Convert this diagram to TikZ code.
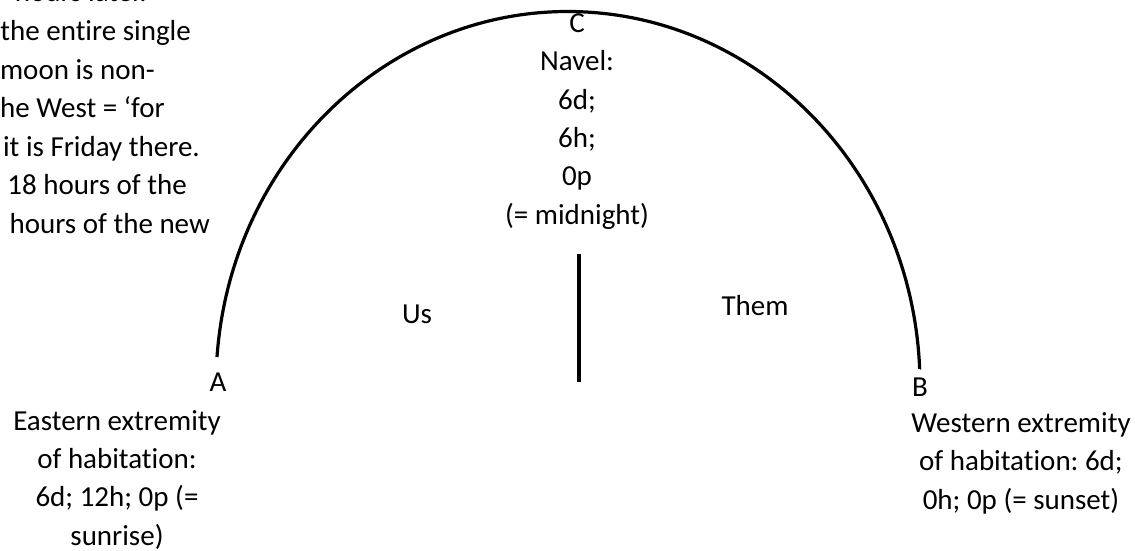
\documentclass[tikz,border=0pt]{standalone}
\usepackage{fontspec}
\setmainfont{Carlito}[Ligatures={TeX,NoCommon}]
\frenchspacing
\begin{document}
\begin{tikzpicture}[x=1pt, y=-1pt,
    every node/.style={inner sep=0pt, font=\fontsize{29}{38.3}\selectfont},
    lbl/.style={anchor=base, align=center},
    frag/.style={anchor=base east}]
    % Frame
    \useasboundingbox (0,0) rectangle (1135,551);
    \clip (0,0) rectangle (1135,551);

    % Cut-off note at the left
    \node[frag] (note1) at (147,2) {hours later.};
    \node[frag] (note2) at (191,40.5) {the entire single};
    \node[frag] (note3) at (155,79) {moon is non-};
    \node[frag] (note4) at (165,117.5) {he West = ‘for};
    \node[frag] (note5) at (200,156) {it is Friday there.};
    \node[frag] (note6) at (187,194.5) {18 hours of the};
    \node[frag] (note7) at (210,233) {hours of the new};

    % Arc from A over C to B
    \coordinate (eastEnd) at (217,357);
    \coordinate (westEnd) at (919.5,369);
    \draw[line width=3.2pt] (eastEnd) arc[start angle=184.3, end angle=357.5, x radius=352, y radius=373.5] -- (westEnd);

    % Divider
    \coordinate (divTop) at (579,254);
    \coordinate (divBot) at (579,382);
    \draw[line width=4pt] (divTop) -- (divBot);

    % Labels (a block sits on the baseline of its last line)
    \node[lbl] (labelC) at (577,33) {C};
    \node[lbl] (navel) at (577,224) {Navel:\\6d;\\6h;\\0p\\(= midnight)};
    \node[lbl] (labelA) at (218,391) {A};
    \node[lbl] (eastern) at (117,545) {Eastern extremity\\of habitation:\\6d; 12h; 0p (=\\sunrise)};
    \node[lbl] (labelB) at (920,396) {B};
    \node[lbl] (western) at (1021,509) {Western extremity\\of habitation: 6d;\\0h; 0p (= sunset)};
    \node[lbl] (us) at (417,323) {Us};
    \node[lbl] (them) at (755,315) {Them};
\end{tikzpicture}
\end{document}
